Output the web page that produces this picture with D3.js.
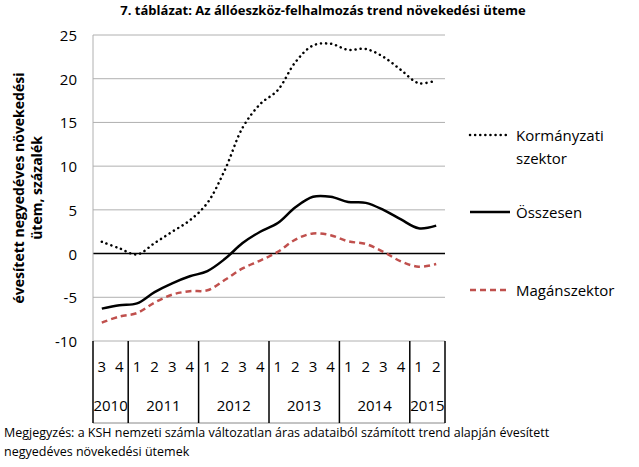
<!DOCTYPE html>
<html>
<head>
<meta charset="utf-8">
<script src="https://cdn.jsdelivr.net/npm/d3@7"></script>
<style>
  body { margin: 0; background: #fff; }
  text { font-family: 'Open Sans', 'Noto Sans', sans-serif; }
</style>
</head>
<body>
<div id="chart"></div>
<script>
// Quarters 2010 Q3 .. 2015 Q2
const quarters = ['3', '4', '1', '2', '3', '4', '1', '2', '3', '4', '1', '2', '3', '4', '1', '2', '3', '4', '1', '2'];
const years = [
  { label: '2010', n: 2 }, { label: '2011', n: 4 }, { label: '2012', n: 4 },
  { label: '2013', n: 4 }, { label: '2014', n: 4 }, { label: '2015', n: 2 },
];
const korm = [1.35, 0.6, -0.1, 1.2, 2.5, 3.8, 5.8, 9.6, 14.4, 17.1, 18.7, 21.9, 23.8, 24.0, 23.3, 23.4, 22.5, 21.0, 19.5, 19.8];
const ossz = [-6.3, -5.9, -5.7, -4.4, -3.4, -2.6, -2.0, -0.6, 1.2, 2.5, 3.5, 5.3, 6.5, 6.5, 5.9, 5.8, 5.0, 3.9, 2.9, 3.2];
const magan = [-7.9, -7.2, -6.8, -5.6, -4.7, -4.3, -4.2, -3.0, -1.7, -0.8, 0.2, 1.6, 2.3, 2.1, 1.4, 1.1, 0.2, -0.9, -1.5, -1.2];
const yTicks = [-10, -5, 0, 5, 10, 15, 20, 25];

(function () {
const W = 639, H = 467;
const pLeft = 93, pRight = 445, pTop = 35, pBottom = 341;

const svg = d3.select('#chart').append('svg').attr('width', W).attr('height', H);

const x = d3.scaleBand().domain(d3.range(quarters.length)).range([pLeft, pRight]);
const y = d3.scaleLinear().domain([-10, 25]).range([pBottom, pTop]);

// Title
svg.append('text').attr('x', 323).attr('y', 15).attr('text-anchor', 'middle')
  .attr('font-size', 13).attr('font-weight', 'bold')
  .text('7.    táblázat: Az állóeszköz-felhalmozás trend növekedési üteme');

// Grid
yTicks.forEach(t => {
  svg.append('line').attr('x1', pLeft).attr('x2', pRight).attr('y1', y(t)).attr('y2', y(t))
    .attr('stroke', t === 0 ? '#000' : '#b0b0b0').attr('stroke-width', t === 0 ? 1.5 : 1);
  svg.append('text').attr('x', 77).attr('y', y(t)).attr('text-anchor', 'end')
    .attr('dominant-baseline', 'central').attr('font-size', 15).text(t);
});
svg.append('line').attr('x1', pLeft).attr('x2', pLeft).attr('y1', pTop).attr('y2', pBottom).attr('stroke', '#b0b0b0');

// Y label
svg.append('text').attr('transform', `translate(24, ${(pTop + pBottom) / 2}) rotate(-90)`)
  .attr('text-anchor', 'middle').attr('font-size', 14).attr('font-weight', 'bold')
  .selectAll('tspan').data(['évesített negyedéves növekedési', 'ütem, százalék']).join('tspan')
  .attr('x', 0).attr('dy', (d, i) => i ? 18 : 0).text(d => d);

// Category axis
const axBottom = 423;
svg.append('line').attr('x1', pLeft).attr('x2', pRight).attr('y1', axBottom).attr('y2', axBottom).attr('stroke', '#888');
quarters.forEach((q, i) => {
  svg.append('text').attr('x', x(i) + x.bandwidth() / 2).attr('y', 372)
    .attr('text-anchor', 'middle').attr('font-size', 15).text(q);
});
let idx = 0;
svg.append('line').attr('x1', pLeft).attr('x2', pLeft).attr('y1', pBottom).attr('y2', axBottom).attr('stroke', '#000').attr('stroke-width', 1.5);
years.forEach(yr => {
  const x0 = x(idx), x1 = x(idx + yr.n - 1) + x.bandwidth();
  svg.append('text').attr('x', (x0 + x1) / 2).attr('y', 411).attr('text-anchor', 'middle')
    .attr('font-size', 15).text(yr.label);
  idx += yr.n;
  svg.append('line').attr('x1', x1).attr('x2', x1).attr('y1', pBottom).attr('y2', axBottom)
    .attr('stroke', '#000').attr('stroke-width', 1.5);
});

// Lines
const line = d3.line().x((d, i) => x(i) + x.bandwidth() / 2).y(d => y(d)).curve(d3.curveCatmullRom);
const series = [
  { data: korm, color: '#000', width: 2.5, dash: '0.1 5', cap: 'round' },
  { data: ossz, color: '#000', width: 2.5, dash: null, cap: 'butt' },
  { data: magan, color: '#c0504d', width: 2.5, dash: '6 4', cap: 'butt' },
];
series.forEach(s => {
  svg.append('path').datum(s.data).attr('d', line).attr('fill', 'none')
    .attr('stroke', s.color).attr('stroke-width', s.width)
    .attr('stroke-dasharray', s.dash).attr('stroke-linecap', s.cap);
});

// Legend
const legend = [
  { s: series[0], y: 135, lines: ['Kormányzati', 'szektor'] },
  { s: series[1], y: 212, lines: ['Összesen'] },
  { s: series[2], y: 290, lines: ['Magánszektor'] },
];
legend.forEach(l => {
  svg.append('line').attr('x1', 470).attr('x2', 510).attr('y1', l.y).attr('y2', l.y)
    .attr('stroke', l.s.color).attr('stroke-width', l.s.width)
    .attr('stroke-dasharray', l.s.dash).attr('stroke-linecap', l.s.cap);
  l.lines.forEach((t, i) => {
    svg.append('text').attr('x', 516).attr('y', l.y + i * 23).attr('dominant-baseline', 'central')
      .attr('font-size', 15).text(t);
  });
});

// Note
svg.append('text').attr('x', 4).attr('y', 437).attr('font-size', 12.5)
  .text('Megjegyzés: a KSH nemzeti számla változatlan áras adataiból számított trend alapján évesített');
svg.append('text').attr('x', 4).attr('y', 456).attr('font-size', 12.5)
  .text('negyedéves növekedési ütemek');
})();
</script>
</body>
</html>
